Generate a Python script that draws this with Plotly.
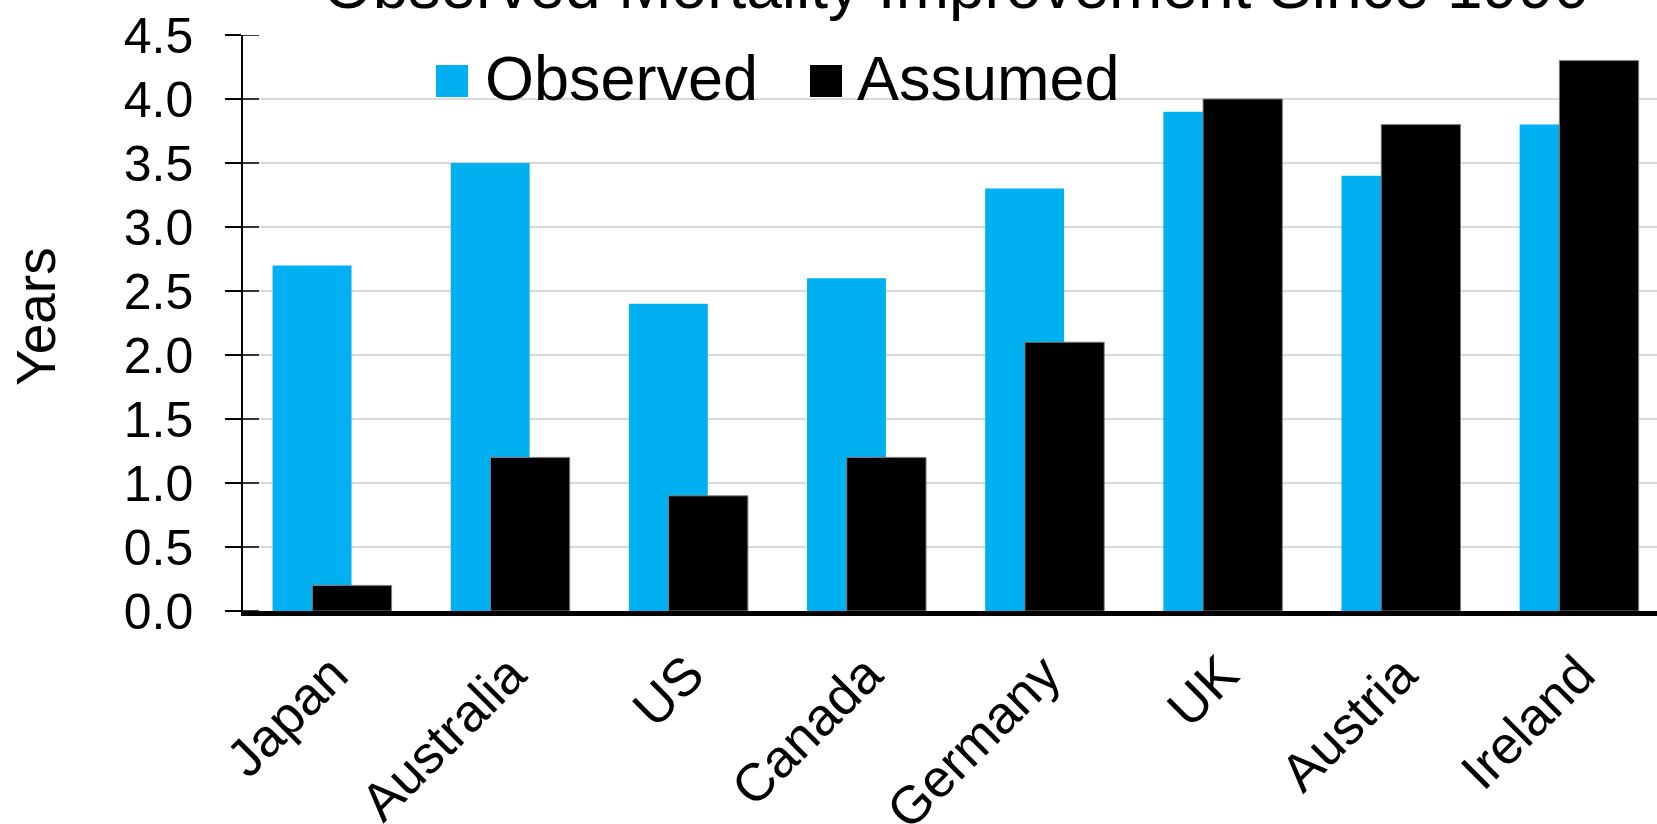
import plotly.graph_objects as go

# Data
countries = ["Japan", "Australia", "US", "Canada", "Germany", "UK", "Austria", "Ireland"]
observed = [2.7, 3.5, 2.4, 2.6, 3.3, 3.9, 3.4, 3.8]
assumed = [0.2, 1.2, 0.9, 1.2, 2.1, 4.0, 3.8, 4.3]
y_ticks = [0.0, 0.5, 1.0, 1.5, 2.0, 2.5, 3.0, 3.5, 4.0, 4.5]
title_text = "Observed Mortality Improvement Since 1990"
y_title = "Years"

BLUE = "#00B0F0"
FONT = "Liberation Sans, Arial, sans-serif"

W, H = 1657, 824
ML, MR, MT, MB = 243, 0, 35, 213
PW, PH = W - ML - MR, H - MT - MB
TICK_LEN = 16


def px_x(px):
    return (px - ML) / PW


def px_y(py):
    return (H - MB - py) / PH


fig = go.Figure()

fig.add_trace(go.Bar(
    x=countries, y=observed, name="Observed",
    marker=dict(color=BLUE, line=dict(width=0)),
    width=0.443, offset=-0.334, showlegend=False,
))
fig.add_trace(go.Bar(
    x=countries, y=assumed, name="Assumed",
    marker=dict(color="#000000", line=dict(color="#7f7f7f", width=1)),
    width=0.445, offset=-0.111, showlegend=False,
))

fig.update_layout(
    width=W, height=H, autosize=False,
    margin=dict(l=ML, r=MR, t=MT, b=MB, pad=0),
    paper_bgcolor="white", plot_bgcolor="white",
    barmode="overlay",
    font=dict(family=FONT, color="black"),
    xaxis=dict(
        type="category", range=[-0.5, 7.437], automargin=False,
        showgrid=False, ticks="", tickangle=-45,
        tickfont=dict(size=53, family=FONT, color="black"),
        ticklabelstandoff=6,
        showline=True, linecolor="black", linewidth=5,
        zeroline=False,
    ),
    yaxis=dict(
        range=[0, 4.5], tickvals=y_ticks, automargin=False,
        ticktext=[f"{v:.1f}" for v in y_ticks],
        tickfont=dict(size=50, family=FONT, color="black"),
        showgrid=True, gridcolor="#D9D9D9", gridwidth=2,
        showline=True, linecolor="black", linewidth=1.5,
        ticks="outside", ticklen=TICK_LEN, tickwidth=1.5, tickcolor="black",
        ticklabelstandoff=22,
        zeroline=False,
    ),
    showlegend=False,
)

annotations = [
    dict(text=title_text, xref="x", yref="paper", x=3.5, y=px_y(24),
         xanchor="center", yanchor="bottom", showarrow=False,
         font=dict(size=64, family=FONT, color="black")),
    dict(text=y_title, xref="paper", yref="paper", x=px_x(36), y=px_y(317),
         xanchor="center", yanchor="middle", textangle=-90, showarrow=False,
         font=dict(size=55, family=FONT, color="black")),
    dict(text="Observed", xref="paper", yref="paper", x=px_x(483), y=px_y(78),
         xanchor="left", yanchor="middle", showarrow=False,
         font=dict(size=63, family=FONT, color="black")),
    dict(text="Assumed", xref="paper", yref="paper", x=px_x(855), y=px_y(78),
         xanchor="left", yanchor="middle", showarrow=False,
         font=dict(size=63, family=FONT, color="black")),
]

shapes = [
    dict(type="rect", xref="paper", yref="paper",
         x0=px_x(436), x1=px_x(468), y0=px_y(97), y1=px_y(65),
         fillcolor=BLUE, line=dict(width=0)),
    dict(type="rect", xref="paper", yref="paper",
         x0=px_x(810), x1=px_x(842), y0=px_y(97), y1=px_y(65),
         fillcolor="#000000", line=dict(width=0)),
]
# inner half of the crossing y tick marks
for v in y_ticks:
    shapes.append(dict(type="line", xref="paper", yref="y",
                       x0=0, x1=TICK_LEN / PW, y0=v, y1=v,
                       line=dict(color="black", width=1.5), layer="above"))

fig.update_layout(annotations=annotations, shapes=shapes)

fig.write_html("out.html")
